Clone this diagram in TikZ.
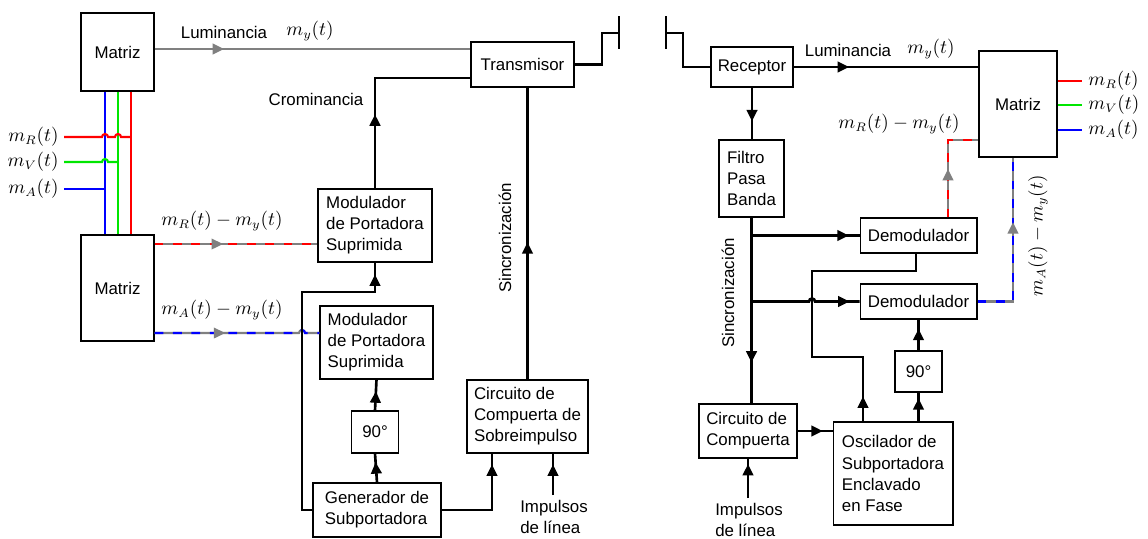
\documentclass[tikz,border=0pt]{standalone}
\usepackage[no-math]{fontspec}
\setmainfont{Liberation Sans}
\usetikzlibrary{arrows.meta,decorations.markings,positioning}
\definecolor{gris}{RGB}{128,128,128}
\definecolor{verde}{RGB}{0,230,0}
\newcommand*{\ftxt}{\fontsize{9.6}{12}\selectfont}
\newcommand*{\fmat}{\fontsize{10.5}{12}\selectfont}

\begin{document}
\begin{tikzpicture}[x=0.02cm,y=-0.02cm,
  caja/.style={rectangle,draw=black,line width=0.6pt,inner sep=1pt,align=left,font=\ftxt},
  linea/.style={draw=black,line width=1.5pt},
  senal/.style={draw=gris,line width=1.2pt},
  guionR/.style={senal,postaction={draw=red,line width=1.2pt,dash pattern=on 5pt off 5.5pt}},
  guionA/.style={senal,postaction={draw=blue,line width=1.2pt,dash pattern=on 5pt off 5.5pt}},
  flecha/.style={postaction={decorate,decoration={markings,mark=at position #1 with {\arrow{Triangle[length=6.5pt,width=6pt]}}}}},
  flechag/.style={postaction={decorate,decoration={markings,mark=at position #1 with {\arrow{Triangle[length=6.5pt,width=6pt,color=gris]}}}}},
  etiq/.style={font=\ftxt,inner sep=0pt},
  etiqm/.style={font=\fmat,inner sep=0pt}]
\useasboundingbox (0,0) rectangle (1148,538);

% transmisor
\node[caja,align=center,minimum width=1.46cm,minimum height=1.56cm] (matA) at (117.5,52) {Matriz};
\node[caja,align=center,minimum width=1.46cm,minimum height=2.12cm] (matB) at (117.5,288) {Matriz};
\node[caja,align=center,minimum width=2.06cm,minimum height=0.9cm] (trans) at (522.5,64.5) {Transmisor};
\node[caja,minimum width=2.28cm,minimum height=1.46cm] (mod1) at (375,225.5) {Modulador\\de Portadora\\Suprimida};
\node[caja,minimum width=2.26cm,minimum height=1.46cm] (mod2) at (376.5,342.5) {Modulador\\de Portadora\\Suprimida};
\node[caja,align=center,minimum width=0.94cm,minimum height=0.84cm] (fase1) at (375,432) {90°};
\node[caja,minimum width=2.56cm,minimum height=1.08cm] (gen) at (377,510) {Generador de\\Subportadora};
\node[caja,minimum width=2.42cm,minimum height=1.46cm] (sobre) at (527.5,416.5) {Circuito de\\Compuerta de\\Sobreimpulso};

% receptor
\node[caja,align=center,minimum width=1.64cm,minimum height=0.8cm] (recep) at (752,67) {Receptor};
\node[caja,minimum width=1.3cm,minimum height=1.54cm] (filtro) at (751.5,178.5) {Filtro\\Pasa\\Banda};
\node[caja,align=center,minimum width=1.56cm,minimum height=2.12cm] (matC) at (1018,104) {Matriz};
\node[caja,align=center,minimum width=2.34cm,minimum height=0.7cm] (dem1) at (918.5,235.5) {Demodulador};
\node[caja,align=center,minimum width=2.34cm,minimum height=0.7cm] (dem2) at (918.5,301.5) {Demodulador};
\node[caja,align=center,minimum width=0.94cm,minimum height=0.82cm] (fase2) at (918.5,371.5) {90°};
\node[caja,minimum width=2.4cm,minimum height=2.06cm] (osc) at (893,473.5) {Oscilador de\\Subportadora\\Enclavado\\en Fase};
\node[caja,minimum width=1.96cm,minimum height=1.08cm] (comp) at (748,431) {Circuito de\\Compuerta};

% entradas de color
\coordinate (eR) at (64,137);
\coordinate (eV) at (64,162);
\coordinate (eA) at (64,189);
\draw[blue,line width=1.2pt] (matA.south-|105,0) -- (matB.north-|105,0);
\draw[verde,line width=1.2pt] (matA.south-|118,0) -- (matB.north-|118,0);
\draw[red,line width=1.2pt] (matA.south-|131,0) -- (matB.north-|131,0);
\draw[red,line width=1.2pt] (eR) -- (102,137) arc[start angle=180,end angle=360,radius=3]
  -- (115,137) arc[start angle=180,end angle=360,radius=3] -- (131,137);
\draw[verde,line width=1.2pt] (eV) -- (102,162) arc[start angle=180,end angle=360,radius=3] -- (118,162);
\draw[blue,line width=1.2pt] (eA) -- (105,189);
\node[etiqm,anchor=east] (lR) at (59,137) {$m_R(t)$};
\node[etiqm,anchor=east] (lV) at (59,162) {$m_V(t)$};
\node[etiqm,anchor=east] (lA) at (59,189) {$m_A(t)$};

% senales del transmisor
\draw[senal,flechag=0.22] (matA.east|-0,49) -- (trans.west|-0,49);
\node[etiq] (lum1) at (224,32) {Luminancia};
\node[etiqm] (my1) at (310,31) {$m_y(t)$};
\draw[guionR,flechag=0.42] (matB.east|-0,244) -- (mod1.west|-0,244);
\node[etiqm] (rmy1) at (222,221) {$m_R(t)-m_y(t)$};
\draw[guionA,flechag=0.42] (matB.east|-0,333) -- (299,333) arc[start angle=180,end angle=360,radius=3] -- (mod2.west|-0,333);
\node[etiqm] (amy1) at (222,310) {$m_A(t)-m_y(t)$};
\draw[linea,flecha=0.36] (mod1.north) |- (trans.west|-0,78);
\node[etiq] (crom) at (316,99) {Crominancia};
\coordinate (cruce) at (302,292);
\draw[linea,flecha=-0.24cm] (gen.west) -| (cruce) -| (mod1.south);
\draw[linea,flecha=0.7] (gen.north) -- (fase1.south);
\draw[linea,flecha=0.62] (fase1.north) -- (mod2.south);
\draw[linea,flecha=-0.22cm] (gen.east) -| (sobre.south-|492,0);
\coordinate (impI) at (553,495);
\draw[linea,flecha=-0.22cm] (impI) -- (impI|-sobre.south);
\node[etiq,align=left] (imp1) at (554,517) {Impulsos\\de línea};
\draw[linea,flecha=0.47] (sobre.north) -- (sobre.north|-trans.south);
\node[etiq,rotate=90] (sinc1) at (505,238) {Sincronización};
\coordinate (antT) at (619,33);
\draw[linea] (trans.east) -| (602,33) -- (antT);
\draw[linea] (antT|-0,16) -- (antT|-0,49);

% senales del receptor
\coordinate (antR) at (666,33);
\draw[linea] (antR|-0,16) -- (antR|-0,49);
\draw[linea] (antR) -- (683,33) |- (recep.west);
\draw[linea,flecha=0.3] (recep.east) -- (recep.east-|matC.west);
\node[etiq] (lum2) at (848,50) {Luminancia};
\node[etiqm] (my2) at (931,49) {$m_y(t)$};
\draw[linea,flecha=0.65] (recep.south) -- (recep.south|-filtro.north);
\draw[linea,flecha=0.78] (filtro.south) -- (filtro.south|-comp.north);
\node[etiq,rotate=90] (sinc2) at (728,293) {Sincronización};
\coordinate (s1) at (filtro.south|-dem1.west);
\coordinate (s2) at (filtro.south|-dem2.west);
\draw[linea,flecha=0.9] (s1) -- (dem1.west);
\draw[linea,flecha=0.91] (s2) -- (809,0|-s2) arc[start angle=180,end angle=360,radius=3] -- (dem2.west);
\coordinate (o1) at (863,0|-osc.north);
\draw[linea,flecha=0.5cm] (o1) |- (812,357) |- (916,271) -- (916,0|-dem1.south);
\draw[linea,flecha=0.8] (fase2.south|-osc.north) -- (fase2.south);
\draw[linea,flecha=0.7] (fase2.north) -- (dem2.south);
\draw[linea,flecha=0.72] (comp.east) -- (comp.east-|osc.west);
\coordinate (impD) at (748,498);
\draw[linea,flecha=0.86] (impD) -- (impD|-comp.south);
\node[etiq,align=left] (imp2) at (749,520) {Impulsos\\de línea};
\draw[guionR,flechag=0.45] (948,0|-dem1.north) |- (matC.west|-0,140);
\node[etiqm] (rmy2) at (899,124) {$m_R(t)-m_y(t)$};
\draw[guionA,flechag=0.64] (dem2.east) -| (1013,0|-matC.south);
\node[etiqm,rotate=90] (amy2) at (1038,236) {$m_A(t)-m_y(t)$};
\foreach \c/\yy/\s in {red/81/R,verde/105/V,blue/130/A}{
  \draw[\c,line width=1.2pt] (matC.east|-0,\yy) -- (1082,\yy);
  \node[etiqm,anchor=west] (out\s) at (1088,\yy) {$m_\s(t)$};
}
\end{tikzpicture}
\end{document}
